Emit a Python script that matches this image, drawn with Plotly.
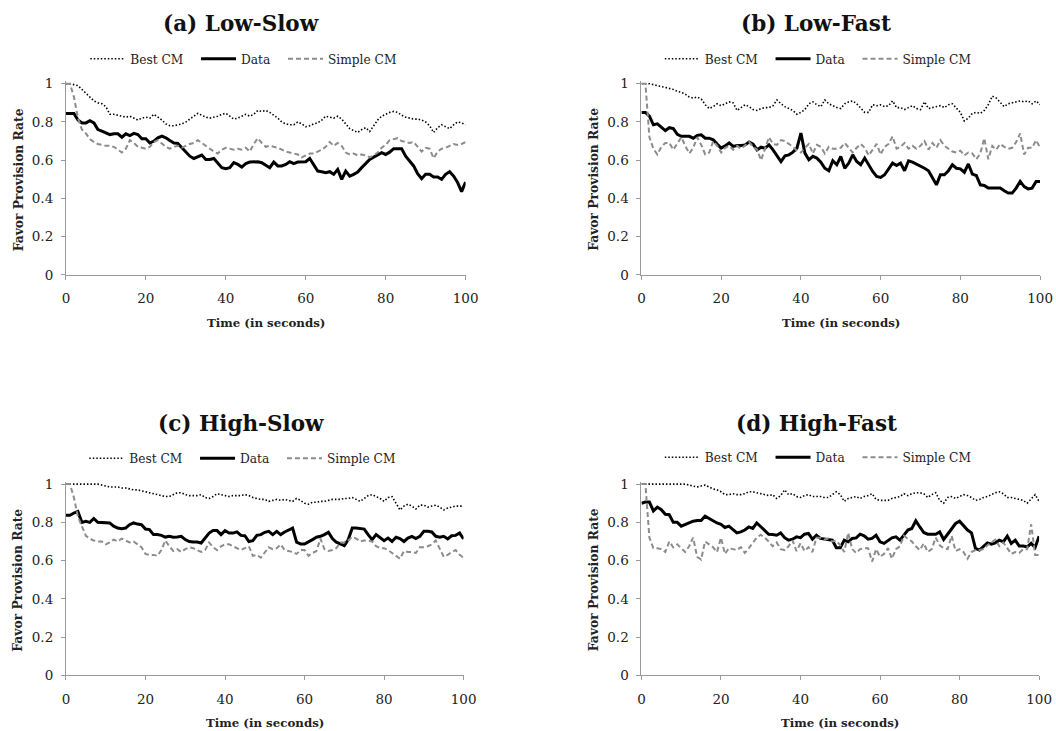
import plotly.graph_objects as go

time = list(range(101))

a_best = [1.0, 1.0, 0.995, 0.99, 0.97, 0.95, 0.935, 0.91, 0.90, 0.895,
          0.88, 0.84, 0.84, 0.835, 0.83, 0.825, 0.83, 0.82, 0.81, 0.82,
          0.825, 0.82, 0.84, 0.825, 0.81, 0.79, 0.78, 0.78, 0.785, 0.79,
          0.80, 0.815, 0.83, 0.845, 0.835, 0.825, 0.82, 0.825, 0.83, 0.84,
          0.845, 0.83, 0.815, 0.82, 0.83, 0.84, 0.83, 0.84, 0.86, 0.855,
          0.86, 0.85, 0.835, 0.82, 0.80, 0.79, 0.785, 0.785, 0.80, 0.79,
          0.775, 0.78, 0.79, 0.795, 0.81, 0.83, 0.825, 0.82, 0.83, 0.815,
          0.79, 0.765, 0.755, 0.745, 0.76, 0.77, 0.75, 0.78, 0.81, 0.83,
          0.84, 0.85, 0.855, 0.85, 0.835, 0.825, 0.82, 0.815, 0.815, 0.81,
          0.80, 0.78, 0.745, 0.77, 0.785, 0.775, 0.765, 0.785, 0.80, 0.795,
          0.785]
a_data = [0.844, 0.844, 0.844, 0.81, 0.795, 0.795, 0.807, 0.795, 0.76, 0.752,
          0.743, 0.734, 0.738, 0.738, 0.72, 0.738, 0.729, 0.74, 0.734, 0.712,
          0.712, 0.69, 0.70, 0.717, 0.726, 0.717, 0.703, 0.69, 0.688, 0.665,
          0.639, 0.621, 0.609, 0.616, 0.627, 0.604, 0.604, 0.609, 0.587, 0.561,
          0.556, 0.561, 0.587, 0.578, 0.564, 0.582, 0.59, 0.592, 0.592, 0.587,
          0.573, 0.561, 0.59, 0.57, 0.57, 0.578, 0.592, 0.582, 0.59, 0.592,
          0.592, 0.609, 0.578, 0.543, 0.54, 0.535, 0.54, 0.526, 0.552, 0.50,
          0.543, 0.517, 0.526, 0.538, 0.561, 0.583, 0.604, 0.616, 0.627, 0.639,
          0.63, 0.642, 0.66, 0.661, 0.66, 0.621, 0.595, 0.57, 0.53, 0.503,
          0.526, 0.526, 0.512, 0.512, 0.50, 0.526, 0.54, 0.517, 0.483, 0.436,
          0.486]
a_simple = [1.0, 1.0, 0.93, 0.82, 0.76, 0.74, 0.71, 0.695, 0.685, 0.68,
            0.675, 0.675, 0.67, 0.655, 0.64, 0.66, 0.705, 0.69, 0.67, 0.665,
            0.66, 0.67, 0.695, 0.705, 0.685, 0.67, 0.66, 0.67, 0.675, 0.665,
            0.675, 0.685, 0.69, 0.705, 0.69, 0.675, 0.66, 0.645, 0.635, 0.655,
            0.665, 0.66, 0.655, 0.66, 0.655, 0.665, 0.645, 0.685, 0.715, 0.69,
            0.67, 0.675, 0.67, 0.665, 0.655, 0.645, 0.64, 0.635, 0.63, 0.615,
            0.625, 0.635, 0.635, 0.645, 0.655, 0.67, 0.695, 0.675, 0.69, 0.675,
            0.64, 0.63, 0.635, 0.625, 0.63, 0.625, 0.615, 0.625, 0.64, 0.665,
            0.68, 0.705, 0.71, 0.715, 0.70, 0.695, 0.69, 0.695, 0.67, 0.645,
            0.665, 0.66, 0.61, 0.645, 0.66, 0.665, 0.675, 0.685, 0.68, 0.685,
            0.695]

b_best = [1.0, 1.0, 1.0, 0.995, 0.99, 0.985, 0.98, 0.975, 0.97, 0.96,
          0.955, 0.945, 0.93, 0.925, 0.93, 0.92, 0.89, 0.87, 0.88, 0.895,
          0.885, 0.895, 0.905, 0.90, 0.86, 0.875, 0.89, 0.88, 0.865, 0.86,
          0.87, 0.875, 0.875, 0.885, 0.915, 0.895, 0.88, 0.87, 0.86, 0.84,
          0.85, 0.865, 0.895, 0.905, 0.89, 0.88, 0.915, 0.895, 0.885, 0.875,
          0.87, 0.895, 0.905, 0.91, 0.895, 0.87, 0.85, 0.85, 0.89, 0.885,
          0.89, 0.88, 0.885, 0.91, 0.875, 0.875, 0.865, 0.875, 0.885, 0.87,
          0.865, 0.905, 0.87, 0.875, 0.88, 0.885, 0.875, 0.89, 0.895, 0.87,
          0.85, 0.805, 0.82, 0.845, 0.85, 0.845, 0.86, 0.89, 0.935, 0.925,
          0.905, 0.88, 0.895, 0.90, 0.905, 0.91, 0.905, 0.91, 0.895, 0.91,
          0.89]
b_data = [0.85, 0.85, 0.83, 0.785, 0.79, 0.77, 0.755, 0.77, 0.765, 0.735,
          0.725, 0.725, 0.725, 0.715, 0.73, 0.733, 0.715, 0.715, 0.707, 0.684,
          0.663, 0.675, 0.69, 0.672, 0.677, 0.677, 0.68, 0.695, 0.684, 0.654,
          0.668, 0.663, 0.68, 0.654, 0.625, 0.593, 0.623, 0.628, 0.642, 0.663,
          0.742, 0.637, 0.602, 0.62, 0.611, 0.59, 0.558, 0.545, 0.597, 0.576,
          0.62, 0.558, 0.585, 0.628, 0.593, 0.576, 0.611, 0.576, 0.541, 0.515,
          0.51, 0.524, 0.558, 0.585, 0.572, 0.585, 0.545, 0.597, 0.59, 0.58,
          0.567, 0.558, 0.545, 0.51, 0.471, 0.524, 0.524, 0.545, 0.576, 0.558,
          0.555, 0.537, 0.58, 0.527, 0.52, 0.471, 0.468, 0.454, 0.454, 0.454,
          0.454, 0.44, 0.428, 0.428, 0.454, 0.489, 0.462, 0.45, 0.454, 0.489,
          0.489]
b_simple = [1.0, 1.0, 0.72, 0.66, 0.63, 0.67, 0.69, 0.69, 0.655, 0.685,
            0.72, 0.675, 0.635, 0.665, 0.72, 0.68, 0.63, 0.64, 0.70, 0.675,
            0.64, 0.665, 0.675, 0.655, 0.675, 0.66, 0.68, 0.695, 0.67, 0.655,
            0.60, 0.655, 0.72, 0.685, 0.68, 0.705, 0.70, 0.685, 0.67, 0.65,
            0.64, 0.665, 0.685, 0.635, 0.68, 0.67, 0.635, 0.67, 0.66, 0.66,
            0.665, 0.69, 0.665, 0.64, 0.665, 0.685, 0.665, 0.625, 0.655, 0.685,
            0.63, 0.67, 0.685, 0.725, 0.66, 0.67, 0.69, 0.66, 0.675, 0.66,
            0.675, 0.70, 0.655, 0.69, 0.665, 0.705, 0.675, 0.66, 0.645, 0.64,
            0.65, 0.625, 0.64, 0.635, 0.605, 0.635, 0.715, 0.605, 0.675, 0.655,
            0.685, 0.67, 0.66, 0.665, 0.695, 0.74, 0.63, 0.665, 0.665, 0.705,
            0.665]

c_best = [1.0, 1.0, 1.0, 1.0, 1.0, 1.0, 1.0, 1.0, 1.0, 0.995,
          0.99, 0.985, 0.985, 0.985, 0.98, 0.98, 0.975, 0.97, 0.97, 0.965,
          0.96, 0.955, 0.95, 0.945, 0.94, 0.935, 0.935, 0.945, 0.955, 0.955,
          0.945, 0.94, 0.94, 0.94, 0.945, 0.93, 0.925, 0.935, 0.95, 0.945,
          0.94, 0.935, 0.94, 0.94, 0.94, 0.945, 0.94, 0.93, 0.925, 0.92,
          0.92, 0.91, 0.915, 0.92, 0.915, 0.92, 0.915, 0.91, 0.925, 0.915,
          0.90, 0.895, 0.905, 0.905, 0.91, 0.91, 0.915, 0.92, 0.92, 0.92,
          0.925, 0.925, 0.93, 0.92, 0.91, 0.925, 0.94, 0.945, 0.935, 0.925,
          0.91, 0.93, 0.935, 0.90, 0.865, 0.885, 0.895, 0.885, 0.87, 0.89,
          0.89, 0.88, 0.885, 0.89, 0.88, 0.865, 0.875, 0.88, 0.885, 0.885,
          0.885]
c_data = [0.837, 0.837, 0.849, 0.857, 0.80, 0.805, 0.80, 0.82, 0.80, 0.80,
          0.80, 0.797, 0.78, 0.77, 0.767, 0.77, 0.788, 0.797, 0.791, 0.788,
          0.765, 0.762, 0.736, 0.736, 0.732, 0.723, 0.727, 0.722, 0.723, 0.727,
          0.71, 0.70, 0.697, 0.697, 0.692, 0.718, 0.744, 0.757, 0.757, 0.736,
          0.757, 0.744, 0.744, 0.75, 0.732, 0.73, 0.70, 0.704, 0.732, 0.736,
          0.748, 0.753, 0.736, 0.753, 0.736, 0.75, 0.758, 0.77, 0.696, 0.687,
          0.687, 0.697, 0.71, 0.722, 0.727, 0.736, 0.748, 0.715, 0.696, 0.687,
          0.678, 0.71, 0.77, 0.77, 0.767, 0.765, 0.736, 0.71, 0.736, 0.718,
          0.704, 0.718, 0.70, 0.722, 0.715, 0.70, 0.718, 0.727, 0.715, 0.727,
          0.753, 0.753, 0.75, 0.727, 0.722, 0.727, 0.713, 0.73, 0.732, 0.744,
          0.713]
c_simple = [1.0, 1.0, 0.93, 0.83, 0.78, 0.73, 0.715, 0.705, 0.70, 0.70,
            0.685, 0.695, 0.71, 0.70, 0.715, 0.705, 0.695, 0.70, 0.685, 0.67,
            0.635, 0.63, 0.63, 0.625, 0.655, 0.705, 0.675, 0.65, 0.66, 0.645,
            0.66, 0.67, 0.665, 0.655, 0.645, 0.655, 0.695, 0.67, 0.655, 0.675,
            0.685, 0.685, 0.675, 0.665, 0.655, 0.665, 0.675, 0.625, 0.63, 0.615,
            0.645, 0.67, 0.66, 0.665, 0.685, 0.655, 0.65, 0.645, 0.635, 0.655,
            0.655, 0.625, 0.64, 0.65, 0.715, 0.66, 0.65, 0.655, 0.665, 0.695,
            0.695, 0.705, 0.725, 0.715, 0.70, 0.705, 0.705, 0.70, 0.675, 0.665,
            0.665, 0.655, 0.64, 0.625, 0.61, 0.65, 0.645, 0.645, 0.64, 0.67,
            0.67, 0.675, 0.685, 0.705, 0.665, 0.62, 0.63, 0.645, 0.655, 0.63,
            0.615]

d_best = [1.0, 1.0, 1.0, 1.0, 1.0, 1.0, 1.0, 1.0, 1.0, 1.0,
          1.0, 1.0, 0.995, 0.99, 0.985, 0.99, 0.995, 0.985, 0.975, 0.97,
          0.96, 0.945, 0.945, 0.95, 0.945, 0.945, 0.95, 0.96, 0.96, 0.955,
          0.95, 0.945, 0.94, 0.945, 0.925, 0.94, 0.97, 0.945, 0.95, 0.935,
          0.93, 0.94, 0.945, 0.935, 0.935, 0.935, 0.93, 0.93, 0.945, 0.96,
          0.945, 0.91, 0.925, 0.93, 0.935, 0.925, 0.935, 0.94, 0.95, 0.92,
          0.915, 0.915, 0.915, 0.925, 0.93, 0.935, 0.95, 0.94, 0.95, 0.955,
          0.955, 0.95, 0.93, 0.945, 0.955, 0.915, 0.90, 0.93, 0.935, 0.925,
          0.935, 0.945, 0.94, 0.93, 0.915, 0.92, 0.93, 0.935, 0.945, 0.955,
          0.96, 0.95, 0.93, 0.93, 0.925, 0.92, 0.915, 0.90, 0.925, 0.945,
          0.91]
d_data = [0.90, 0.906, 0.906, 0.86, 0.88, 0.866, 0.842, 0.84, 0.80, 0.80,
          0.78, 0.79, 0.80, 0.806, 0.81, 0.81, 0.832, 0.82, 0.81, 0.797,
          0.79, 0.773, 0.78, 0.762, 0.745, 0.75, 0.76, 0.776, 0.768, 0.797,
          0.776, 0.755, 0.738, 0.737, 0.733, 0.745, 0.72, 0.707, 0.712, 0.724,
          0.72, 0.738, 0.742, 0.712, 0.733, 0.716, 0.712, 0.707, 0.707, 0.667,
          0.667, 0.707, 0.698, 0.716, 0.719, 0.738, 0.73, 0.712, 0.716, 0.733,
          0.698, 0.69, 0.707, 0.719, 0.724, 0.707, 0.733, 0.76, 0.768, 0.808,
          0.776, 0.747, 0.738, 0.737, 0.738, 0.75, 0.711, 0.738, 0.768, 0.794,
          0.806, 0.782, 0.76, 0.745, 0.664, 0.655, 0.672, 0.693, 0.686, 0.693,
          0.707, 0.698, 0.728, 0.69, 0.707, 0.676, 0.676, 0.672, 0.69, 0.669,
          0.728]
d_simple = [1.0, 1.0, 0.72, 0.665, 0.665, 0.66, 0.645, 0.70, 0.67, 0.685,
            0.665, 0.645, 0.675, 0.72, 0.62, 0.605, 0.70, 0.685, 0.67, 0.645,
            0.72, 0.635, 0.665, 0.66, 0.655, 0.67, 0.64, 0.665, 0.69, 0.72,
            0.735, 0.72, 0.70, 0.675, 0.695, 0.66, 0.655, 0.675, 0.705, 0.65,
            0.69, 0.65, 0.67, 0.645, 0.72, 0.72, 0.71, 0.715, 0.70, 0.705,
            0.68, 0.645, 0.745, 0.66, 0.64, 0.66, 0.665, 0.665, 0.595, 0.66,
            0.62, 0.635, 0.665, 0.61, 0.66, 0.675, 0.73, 0.715, 0.70, 0.675,
            0.655, 0.69, 0.645, 0.66, 0.72, 0.68, 0.665, 0.66, 0.73, 0.65,
            0.66, 0.645, 0.61, 0.645, 0.655, 0.655, 0.66, 0.68, 0.695, 0.71,
            0.675, 0.695, 0.665, 0.635, 0.645, 0.64, 0.66, 0.66, 0.79, 0.63,
            0.63]

panel_titles = ["(a) Low-Slow", "(b) Low-Fast", "(c) High-Slow", "(d) High-Fast"]
series_names = ["Best CM", "Data", "Simple CM"]
x_ticks = [0, 20, 40, 60, 80, 100]
y_ticks = [0, 0.2, 0.4, 0.6, 0.8, 1]
x_title = "Time (in seconds)"
y_title = "Favor Provision Rate"

panels = [
    (a_best, a_data, a_simple),
    (b_best, b_data, b_simple),
    (c_best, c_data, c_simple),
    (d_best, d_data, d_simple),
]
for grp in panels:
    for s in grp:
        assert len(s) == 101, len(s)

# The screenshot appears scaled by ~0.985; lay out in a slightly larger canvas
K = 0.985
OFFX = 3.0
OFFY = 4.0
W, H = 1072, 742
FONT = "DejaVu Serif"

def px(x):
    return ((x - OFFX) / K) / W

def py(y):
    return 1 - ((y - OFFY) / K) / H

# target pixel geometry of each plot area: (left, right, top_of_1, bottom_of_0)
geo = [
    (65, 465, 82, 274),
    (641, 1040, 82, 274),
    (65, 463, 484, 676),
    (641, 1039, 484, 676),
]
YMAX = 1.012

styles = [
    dict(color="black", width=1.6, dash="1.5px,2px"),
    dict(color="black", width=3),
    dict(color="#8c8c8c", width=2, dash="5px,3px"),
]

fig = go.Figure()
layout = dict(
    width=W, height=H,
    margin=dict(l=0, r=0, t=0, b=0),
    paper_bgcolor="white", plot_bgcolor="white",
    font=dict(family=FONT, color="#222"),
    hovermode=False,
    annotations=[],
)

legend_pos = [(243, 57), (818, 57), (242, 458), (818, 457)]
title_pos = [(240, 22), (816, 22), (240, 423), (816, 423)]
PAD = "\u00a0\u00a0"

for i, (grp, (l, r, t1, b0)) in enumerate(zip(panels, geo)):
    n = "" if i == 0 else str(i + 1)
    xa, ya = "x" + n, "y" + n
    leg = "legend" + n
    for j, (s, name, st) in enumerate(zip(grp, series_names, styles)):
        fig.add_trace(go.Scatter(
            x=time, y=s, mode="lines",
            name=name + (PAD if j < 2 else ""), line=st,
            xaxis=xa, yaxis=ya, legend=leg, showlegend=True,
        ))
    top = t1 - (YMAX - 1) * (b0 - t1)
    axis_common = dict(showline=True, linecolor="#9a9a9a", linewidth=1,
                       ticks="outside", ticklen=4, tickcolor="#9a9a9a",
                       showgrid=False, zeroline=False,
                       tickfont=dict(family=FONT, size=13.5, color="#222"))
    layout["xaxis" + n] = dict(domain=[px(l), px(r)], range=[0, 100],
                               tickvals=x_ticks, anchor=ya,
                               ticklabelstandoff=7, **axis_common)
    layout["yaxis" + n] = dict(domain=[py(b0), py(top)], range=[0, YMAX],
                               tickvals=y_ticks, anchor=xa,
                               ticklabelstandoff=5, **axis_common)
    lx, ly = legend_pos[i]
    layout[leg] = dict(orientation="h", x=px(lx), y=py(ly),
                       xanchor="center", yanchor="middle",
                       font=dict(family=FONT, size=12.2, color="#222"),
                       bgcolor="rgba(0,0,0,0)", itemwidth=35)
    tx, ty = title_pos[i]
    layout["annotations"].append(dict(
        text=panel_titles[i], x=px(tx), y=py(ty), xref="paper", yref="paper",
        showarrow=False, xanchor="center", yanchor="middle",
        font=dict(family=FONT, size=21.5, color="#111", weight="bold")))
    layout["annotations"].append(dict(
        text=x_title, x=px((l + r) / 2), y=py(b0 + 48), xref="paper", yref="paper",
        showarrow=False, xanchor="center", yanchor="middle",
        font=dict(family=FONT, size=11.8, color="#222", weight="bold")))
    layout["annotations"].append(dict(
        text=y_title, x=px(l - 48), y=py((t1 + b0) / 2), xref="paper", yref="paper",
        showarrow=False, xanchor="center", yanchor="middle", textangle=-90,
        font=dict(family=FONT, size=12.3, color="#222", weight="bold")))

fig.update_layout(**layout)
fig.write_html("out.html",
               config={"displayModeBar": False},
               post_script="document.body.style.margin='0';"
                           "document.documentElement.style.overflow='hidden';")
